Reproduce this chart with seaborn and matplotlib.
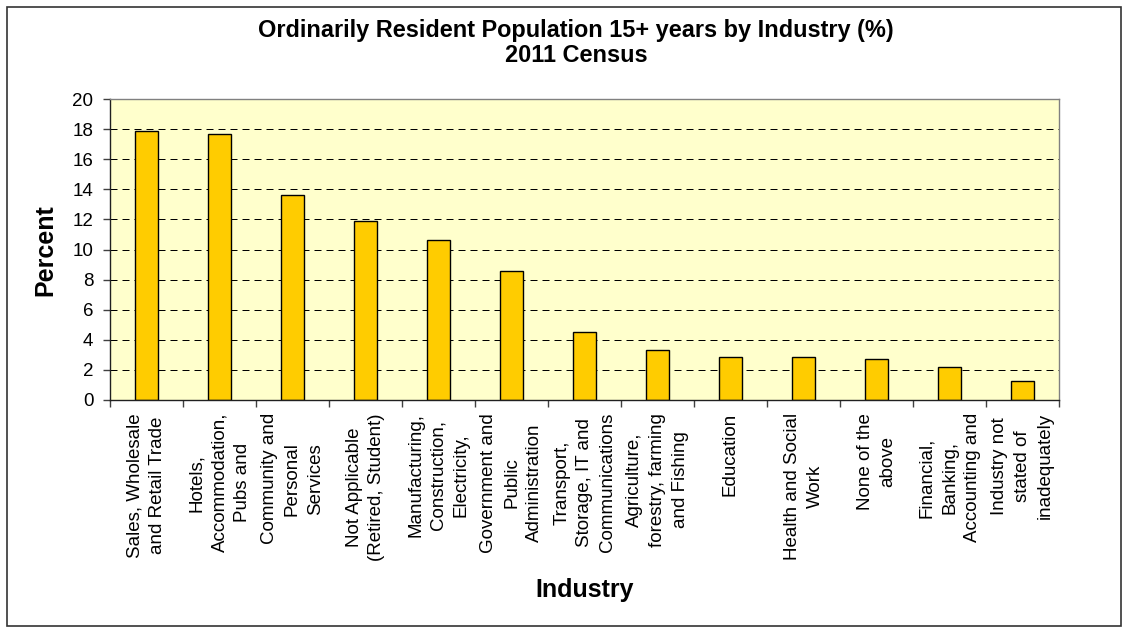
import matplotlib
matplotlib.use("Agg")
import matplotlib.pyplot as plt
from matplotlib.patches import Rectangle
import seaborn as sns
import pandas as pd

# data
industries = [
    "Sales, Wholesale\nand Retail Trade",
    "Hotels,\nAccommodation,\nPubs and",
    "Community and\nPersonal\nServices",
    "Not Applicable\n(Retired, Student)",
    "Manufacturing,\nConstruction,\nElectricity,",
    "Government and\nPublic\nAdministration",
    "Transport,\nStorage, IT and\nCommunications",
    "Agriculture,\nforestry, farming\nand Fishing",
    "Education",
    "Health and Social\nWork",
    "None of the\nabove",
    "Financial,\nBanking,\nAccounting and",
    "Industry not\nstated of\ninadequately",
]
percent = [17.9, 17.7, 13.6, 11.9, 10.6, 8.6, 4.5, 3.3, 2.85, 2.85, 2.7, 2.2, 1.25]
y_ticks = [0, 2, 4, 6, 8, 10, 12, 14, 16, 18, 20]

df = pd.DataFrame({"Industry": industries, "Percent": percent})

sns.set_style("white")
plt.rcParams["font.family"] = ["Liberation Sans", "DejaVu Sans"]
plt.rcParams["text.color"] = "black"
plt.rcParams["xtick.color"] = "black"
plt.rcParams["ytick.color"] = "black"

fig = plt.figure(figsize=(11.29, 6.33), dpi=100)
ax = fig.add_axes([110 / 1129, 1 - 400 / 633, (1059 - 110) / 1129, 301 / 633])
ax.set_facecolor("#FFFFCC")

sns.barplot(data=df, x="Industry", y="Percent", color="#FFCC00",
            edgecolor="black", linewidth=1.0, width=0.31, saturation=1, ax=ax)

ax.set_ylim(0, 20)
ax.set_xlim(-0.5, len(industries) - 0.5)
ax.set_yticks(y_ticks)
ax.set_yticklabels([str(v) for v in y_ticks], fontsize=13.5)

# dashed gridlines
for v in y_ticks[1:-1]:
    ax.axhline(v, color="black", linewidth=0.72, linestyle=(0, (7, 5)), zorder=0.5)

# category labels at centres, tick marks at category borders
ax.set_xticks(range(len(industries)))
ax.set_xticklabels(industries, rotation=90, fontsize=13.5, ha="center", va="top",
                   multialignment="center", linespacing=1.45)
ax.set_xticks([i - 0.5 for i in range(len(industries) + 1)], minor=True)
ax.tick_params(axis="x", which="major", bottom=True, length=0, pad=9.4)
ax.tick_params(axis="x", which="minor", bottom=True, length=5, width=1,
               color="#404040", direction="out")
ax.tick_params(axis="y", left=True, length=5, width=1, color="#404040",
               direction="out", pad=7)

for side in ["top", "right"]:
    ax.spines[side].set_color("#808080")
    ax.spines[side].set_linewidth(1)
for side in ["left", "bottom"]:
    ax.spines[side].set_color("#202020")
    ax.spines[side].set_linewidth(1)

ax.set_xlabel("")
ax.set_ylabel("")
fig.text(585 / 1129, 1 - 590 / 633, "Industry", ha="center", va="center",
         fontsize=18, fontweight="bold")
fig.text(45 / 1129, 1 - 250 / 633, "Percent", ha="center", va="center",
         rotation=90, fontsize=18, fontweight="bold")

fig.text(576 / 1129, 1 - 30 / 633, "Ordinarily Resident Population 15+ years by Industry (%)",
         ha="center", va="center", fontsize=16.9, fontweight="bold")
fig.text(576 / 1129, 1 - 56 / 633, "2011 Census",
         ha="center", va="center", fontsize=16.9, fontweight="bold")

# outer chart border
fig.patches.append(Rectangle((7 / 1129, 1 - 626 / 633), (1121 - 7) / 1129, (626 - 7) / 633,
                             transform=fig.transFigure, fill=False,
                             edgecolor="#333333", linewidth=1.2))

fig.savefig("out.png", dpi=100, facecolor="white")
